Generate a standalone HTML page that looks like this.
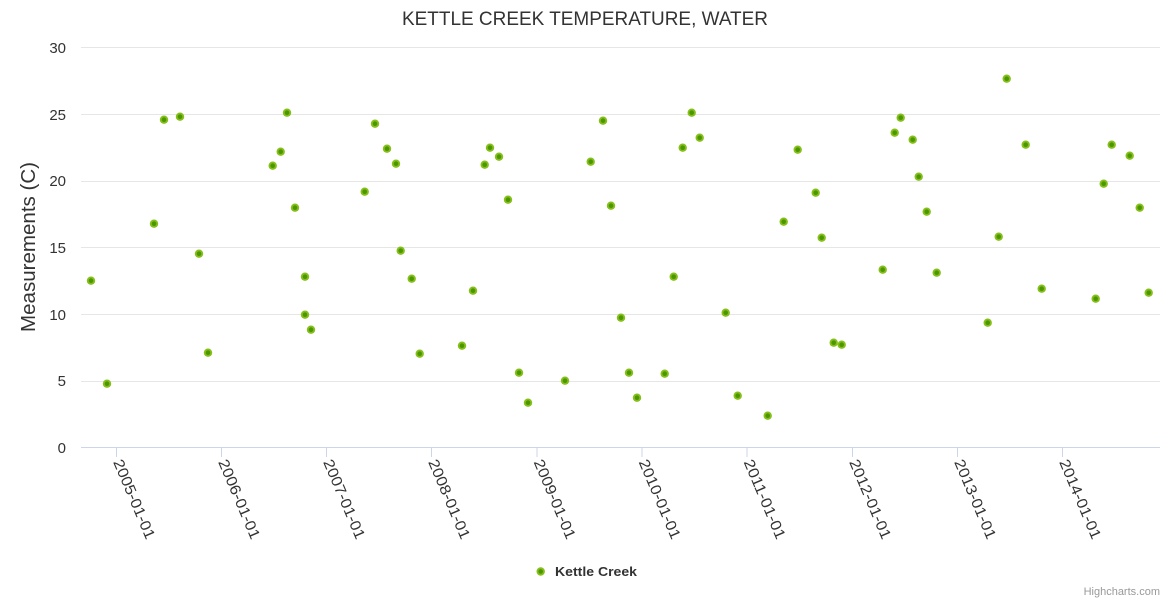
<!DOCTYPE html>
<html>
<head>
<meta charset="utf-8">
<style>
  html, body { margin: 0; padding: 0; background: #fff; }
  svg { display: block; }
  text { font-family: "Liberation Sans", "DejaVu Sans", sans-serif; }
</style>
</head>
<body>
<svg width="1170" height="600" viewBox="0 0 1170 600" xmlns="http://www.w3.org/2000/svg">
  <defs>
    <g id="m">
      <circle r="4.2" fill="#86bf1a"/>
      <circle r="2.3" fill="#4a9700"/>
    </g>
  </defs>
  <rect width="1170" height="600" fill="#fff"/>

  <text x="585" y="25" text-anchor="middle" font-size="19" fill="#333333" textLength="366" lengthAdjust="spacingAndGlyphs">KETTLE CREEK TEMPERATURE, WATER</text>

  <g stroke="#e6e6e6" stroke-width="1">
    <line x1="81" y1="47.5" x2="1160" y2="47.5"/>
    <line x1="81" y1="114.5" x2="1160" y2="114.5"/>
    <line x1="81" y1="181.5" x2="1160" y2="181.5"/>
    <line x1="81" y1="247.5" x2="1160" y2="247.5"/>
    <line x1="81" y1="314.5" x2="1160" y2="314.5"/>
    <line x1="81" y1="381.5" x2="1160" y2="381.5"/>
  </g>
  <line x1="81" y1="447.5" x2="1160" y2="447.5" stroke="#ccd6eb" stroke-width="1"/>
  <g stroke="#ccd6eb" stroke-width="1">
    <line x1="116.5" y1="447" x2="116.5" y2="457"/>
    <line x1="221.5" y1="447" x2="221.5" y2="457"/>
    <line x1="326.5" y1="447" x2="326.5" y2="457"/>
    <line x1="431.5" y1="447" x2="431.5" y2="457"/>
    <line x1="537" y1="447" x2="537" y2="457"/>
    <line x1="642" y1="447" x2="642" y2="457"/>
    <line x1="747" y1="447" x2="747" y2="457"/>
    <line x1="852.5" y1="447" x2="852.5" y2="457"/>
    <line x1="957.5" y1="447" x2="957.5" y2="457"/>
    <line x1="1062.5" y1="447" x2="1062.5" y2="457"/>
  </g>

  <g font-size="15" fill="#333333" text-anchor="end">
    <text x="66" y="53">30</text>
    <text x="66" y="120">25</text>
    <text x="66" y="186">20</text>
    <text x="66" y="253">15</text>
    <text x="66" y="320">10</text>
    <text x="66" y="386">5</text>
    <text x="66" y="453">0</text>
  </g>

  <text transform="translate(35,247) rotate(-90)" text-anchor="middle" font-size="20" fill="#333333" textLength="170" lengthAdjust="spacingAndGlyphs">Measurements (C)</text>

  <g font-size="15" fill="#333333">
    <text transform="translate(113,462) rotate(67)" textLength="85" lengthAdjust="spacingAndGlyphs">2005-01-01</text>
    <text transform="translate(218,462) rotate(67)" textLength="85" lengthAdjust="spacingAndGlyphs">2006-01-01</text>
    <text transform="translate(323,462) rotate(67)" textLength="85" lengthAdjust="spacingAndGlyphs">2007-01-01</text>
    <text transform="translate(428,462) rotate(67)" textLength="85" lengthAdjust="spacingAndGlyphs">2008-01-01</text>
    <text transform="translate(533.5,462) rotate(67)" textLength="85" lengthAdjust="spacingAndGlyphs">2009-01-01</text>
    <text transform="translate(638.5,462) rotate(67)" textLength="85" lengthAdjust="spacingAndGlyphs">2010-01-01</text>
    <text transform="translate(743.5,462) rotate(67)" textLength="85" lengthAdjust="spacingAndGlyphs">2011-01-01</text>
    <text transform="translate(849,462) rotate(67)" textLength="85" lengthAdjust="spacingAndGlyphs">2012-01-01</text>
    <text transform="translate(954,462) rotate(67)" textLength="85" lengthAdjust="spacingAndGlyphs">2013-01-01</text>
    <text transform="translate(1059,462) rotate(67)" textLength="85" lengthAdjust="spacingAndGlyphs">2014-01-01</text>
  </g>

  <g>
    <use href="#m" x="91" y="280.7"/>
    <use href="#m" x="107" y="383.7"/>
    <use href="#m" x="154" y="223.7"/>
    <use href="#m" x="164" y="119.7"/>
    <use href="#m" x="180" y="116.7"/>
    <use href="#m" x="199" y="253.7"/>
    <use href="#m" x="208" y="352.7"/>
    <use href="#m" x="272.7" y="165.7"/>
    <use href="#m" x="280.7" y="151.7"/>
    <use href="#m" x="287" y="112.7"/>
    <use href="#m" x="295" y="207.7"/>
    <use href="#m" x="305" y="276.7"/>
    <use href="#m" x="305" y="314.7"/>
    <use href="#m" x="311" y="329.7"/>
    <use href="#m" x="364.7" y="191.7"/>
    <use href="#m" x="375" y="123.7"/>
    <use href="#m" x="387" y="148.7"/>
    <use href="#m" x="396" y="163.7"/>
    <use href="#m" x="400.7" y="250.7"/>
    <use href="#m" x="411.7" y="278.7"/>
    <use href="#m" x="419.7" y="353.7"/>
    <use href="#m" x="462" y="345.7"/>
    <use href="#m" x="473" y="290.7"/>
    <use href="#m" x="484.7" y="164.7"/>
    <use href="#m" x="490" y="147.7"/>
    <use href="#m" x="499" y="156.7"/>
    <use href="#m" x="508" y="199.7"/>
    <use href="#m" x="519" y="372.7"/>
    <use href="#m" x="528" y="402.7"/>
    <use href="#m" x="565" y="380.7"/>
    <use href="#m" x="590.7" y="161.7"/>
    <use href="#m" x="603" y="120.7"/>
    <use href="#m" x="611" y="205.7"/>
    <use href="#m" x="621" y="317.7"/>
    <use href="#m" x="629" y="372.7"/>
    <use href="#m" x="637" y="397.7"/>
    <use href="#m" x="664.7" y="373.7"/>
    <use href="#m" x="673.7" y="276.7"/>
    <use href="#m" x="682.7" y="147.7"/>
    <use href="#m" x="691.7" y="112.7"/>
    <use href="#m" x="699.7" y="137.7"/>
    <use href="#m" x="725.7" y="312.7"/>
    <use href="#m" x="737.7" y="395.7"/>
    <use href="#m" x="767.7" y="415.7"/>
    <use href="#m" x="783.7" y="221.7"/>
    <use href="#m" x="797.7" y="149.7"/>
    <use href="#m" x="815.7" y="192.7"/>
    <use href="#m" x="821.7" y="237.7"/>
    <use href="#m" x="833.7" y="342.7"/>
    <use href="#m" x="841.7" y="344.7"/>
    <use href="#m" x="882.7" y="269.7"/>
    <use href="#m" x="894.7" y="132.7"/>
    <use href="#m" x="900.7" y="117.7"/>
    <use href="#m" x="912.7" y="139.7"/>
    <use href="#m" x="918.7" y="176.7"/>
    <use href="#m" x="926.7" y="211.7"/>
    <use href="#m" x="936.7" y="272.7"/>
    <use href="#m" x="987.7" y="322.7"/>
    <use href="#m" x="998.7" y="236.7"/>
    <use href="#m" x="1006.7" y="78.7"/>
    <use href="#m" x="1025.7" y="144.7"/>
    <use href="#m" x="1041.7" y="288.7"/>
    <use href="#m" x="1095.7" y="298.7"/>
    <use href="#m" x="1103.7" y="183.7"/>
    <use href="#m" x="1111.7" y="144.7"/>
    <use href="#m" x="1129.7" y="155.7"/>
    <use href="#m" x="1139.7" y="207.7"/>
    <use href="#m" x="1148.7" y="292.7"/>
  </g>

  <use href="#m" x="540.7" y="571.5"/>
  <text x="555" y="576" font-size="12.5" font-weight="bold" fill="#333333" textLength="82" lengthAdjust="spacingAndGlyphs">Kettle Creek</text>

  <text x="1160" y="595" text-anchor="end" font-size="11" fill="#999999">Highcharts.com</text>
</svg>
</body>
</html>
